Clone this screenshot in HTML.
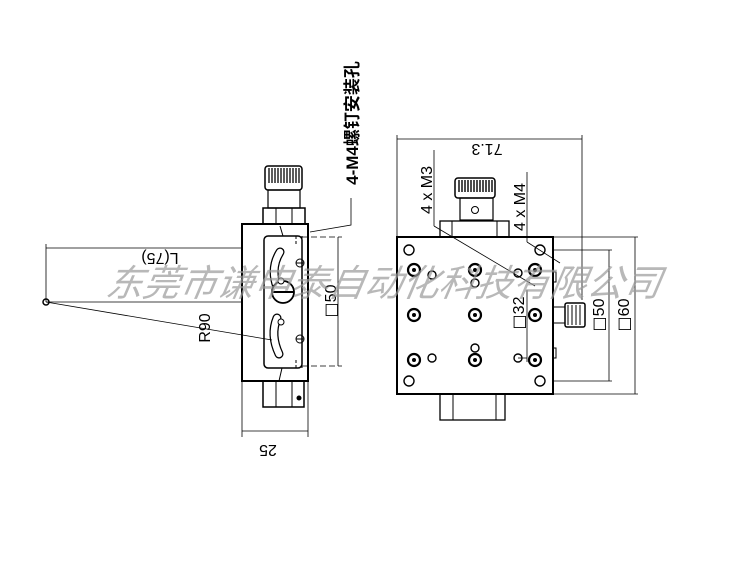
<!DOCTYPE html>
<html><head><meta charset="utf-8"><style>
html,body{margin:0;padding:0;background:#fff;}
svg{display:block;}
text{font-family:"Liberation Sans","Noto Sans CJK SC",sans-serif;}
.sq{font-family:"DejaVu Sans",sans-serif;}
</style></head><body>
<svg width="750" height="564" viewBox="0 0 750 564" xmlns="http://www.w3.org/2000/svg">
<g fill="none" stroke="#000">
<!-- LEFT VIEW -->
<rect x="242" y="224" width="66" height="157" stroke-width="2"/>
<rect x="263" y="208" width="42" height="16" stroke-width="1.5"/>
<line x1="276" y1="208" x2="276" y2="224"/><line x1="292" y1="208" x2="292" y2="224"/>
<rect x="268" y="190" width="32" height="18" stroke-width="1.2"/>
<rect x="265" y="166" width="37" height="24" rx="3" stroke-width="1.5"/>
<g stroke-width="1.3">
<line x1="269" y1="168" x2="269" y2="183"/><line x1="272" y1="168" x2="272" y2="183"/><line x1="275" y1="168" x2="275" y2="183"/><line x1="278" y1="168" x2="278" y2="183"/><line x1="281" y1="168" x2="281" y2="183"/><line x1="284" y1="168" x2="284" y2="183"/><line x1="287" y1="168" x2="287" y2="183"/><line x1="290" y1="168" x2="290" y2="183"/><line x1="293" y1="168" x2="293" y2="183"/><line x1="296" y1="168" x2="296" y2="183"/><line x1="299" y1="168" x2="299" y2="183"/>
</g>
<rect x="263" y="381" width="41" height="26" stroke-width="1.5"/>
<line x1="276" y1="381" x2="276" y2="407"/><line x1="292" y1="381" x2="292" y2="407"/>
<circle cx="299" cy="398" r="2" fill="#000"/>
<rect x="264" y="236" width="38" height="132" rx="4" stroke-width="1.5"/>
<path d="M280 252 Q270 268 277 287" stroke-width="9" stroke-linecap="round"/>
<path d="M280 252 Q270 268 277 287" stroke-width="6.5" stroke="#fff" stroke-linecap="round"/>
<path d="M277 318 Q270 335 279 354" stroke-width="9" stroke-linecap="round"/>
<path d="M277 318 Q270 335 279 354" stroke-width="6.5" stroke="#fff" stroke-linecap="round"/>
<circle cx="283" cy="292" r="11" stroke-width="1.8" fill="#fff"/>
<line x1="272" y1="292" x2="294" y2="292" stroke-width="2"/>
<circle cx="281" cy="281" r="3" fill="#fff"/><circle cx="281" cy="322" r="3" fill="#fff"/>
<circle cx="300" cy="263" r="4"/><line x1="296" y1="263" x2="304" y2="263"/>
<circle cx="300" cy="339" r="4"/><line x1="296" y1="339" x2="304" y2="339"/>
<line x1="280" y1="226" x2="283" y2="236"/><line x1="282" y1="368" x2="279" y2="381"/>
<path d="M296 236 v10 M302 236 v10 M296 360 v10 M302 360 v10" stroke-dasharray="3,2"/>
<!-- 50 dim -->
<line x1="302" y1="237" x2="342" y2="237" stroke-dasharray="6,3" stroke-width="0.8"/>
<line x1="302" y1="366" x2="342" y2="366" stroke-dasharray="6,3" stroke-width="0.8"/>
<line x1="338" y1="237" x2="338" y2="366" stroke-width="0.8"/>
<!-- 25 dim -->
<line x1="242" y1="381" x2="242" y2="437" stroke-width="0.8"/><line x1="308" y1="381" x2="308" y2="437" stroke-width="0.8"/>
<line x1="242" y1="431" x2="308" y2="431" stroke-width="0.8"/>
<!-- L75 -->
<line x1="46" y1="248" x2="242" y2="248" stroke-width="0.8"/>
<line x1="46" y1="244" x2="46" y2="302" stroke-width="0.8"/>
<line x1="46" y1="302" x2="242" y2="302" stroke-width="0.8"/>
<line x1="46" y1="302" x2="272" y2="340" stroke-width="0.8"/>
<circle cx="46" cy="302" r="3" stroke-width="1.5"/>
<!-- callout -->
<polyline points="351,198 351,225 310,232" stroke-width="0.8"/>
<!-- RIGHT VIEW -->
<rect x="397" y="237" width="156" height="157" stroke-width="2"/>
<rect x="440" y="394" width="65" height="26" stroke-width="1.3"/>
<line x1="453" y1="394" x2="453" y2="420"/><line x1="496" y1="394" x2="496" y2="420"/>
<rect x="440" y="221" width="69" height="16" stroke-width="1.3"/>
<line x1="452" y1="221" x2="452" y2="237"/><line x1="497" y1="221" x2="497" y2="237"/>
<rect x="460" y="198" width="33" height="22" stroke-width="1.2"/>
<circle cx="475" cy="210" r="3.5"/>
<rect x="455" y="178" width="40" height="20" rx="3" stroke-width="1.5"/>
<g stroke-width="1.4">
<line x1="459" y1="180" x2="459" y2="192"/><line x1="462" y1="180" x2="462" y2="192"/><line x1="465" y1="180" x2="465" y2="192"/><line x1="468" y1="180" x2="468" y2="192"/><line x1="471" y1="180" x2="471" y2="192"/><line x1="474" y1="180" x2="474" y2="192"/><line x1="477" y1="180" x2="477" y2="192"/><line x1="480" y1="180" x2="480" y2="192"/><line x1="483" y1="180" x2="483" y2="192"/><line x1="486" y1="180" x2="486" y2="192"/><line x1="489" y1="180" x2="489" y2="192"/><line x1="492" y1="180" x2="492" y2="192"/>
</g>
<!-- side knob -->
<rect x="553" y="307" width="12" height="16" stroke-width="1"/>
<rect x="565" y="303" width="20" height="24" rx="2" stroke-width="1.5"/>
<line x1="568" y1="305" x2="568" y2="325"/><line x1="572" y1="305" x2="572" y2="325"/><line x1="576" y1="305" x2="576" y2="325"/><line x1="580" y1="305" x2="580" y2="325"/>
<path d="M553 272 h3 v10 h-3 M553 348 h3 v10 h-3"/>
<!-- holes -->
<g stroke-width="1.4">
<circle cx="409" cy="250" r="5"/><circle cx="540" cy="250" r="5"/><circle cx="409" cy="381" r="5"/><circle cx="540" cy="381" r="5"/>
<circle cx="432" cy="275" r="4"/><circle cx="475" cy="283" r="4"/><circle cx="475" cy="348" r="4"/><circle cx="432" cy="358" r="4"/><circle cx="518" cy="358" r="4"/><circle cx="518" cy="273" r="4"/>
</g>
<g stroke-width="2.2">
<circle cx="414" cy="270" r="6"/><circle cx="475" cy="270" r="6"/><circle cx="535" cy="270" r="6"/>
<circle cx="414" cy="315" r="6"/><circle cx="475" cy="315" r="6"/><circle cx="535" cy="315" r="6"/>
<circle cx="414" cy="360" r="6"/><circle cx="475" cy="360" r="6"/><circle cx="535" cy="360" r="6"/>
</g>
<g fill="#000" stroke="none">
<circle cx="414" cy="270" r="2"/><circle cx="475" cy="270" r="2"/><circle cx="535" cy="270" r="2"/>
<circle cx="414" cy="315" r="2"/><circle cx="475" cy="315" r="2"/><circle cx="535" cy="315" r="2"/>
<circle cx="414" cy="360" r="2"/><circle cx="475" cy="360" r="2"/><circle cx="535" cy="360" r="2"/>
</g>
<!-- dims right -->
<g stroke-width="0.8">
<line x1="397" y1="139" x2="582" y2="139"/>
<line x1="397" y1="135" x2="397" y2="237"/>
<line x1="582" y1="135" x2="582" y2="300"/>
<line x1="434" y1="150" x2="434" y2="226"/>
<line x1="434" y1="226" x2="535" y2="286"/>
<line x1="527" y1="172" x2="527" y2="242"/>
<line x1="527" y1="242" x2="560" y2="263"/>
<line x1="527" y1="290" x2="527" y2="362"/><line x1="518" y1="358" x2="527" y2="358"/>
<line x1="553" y1="250" x2="612" y2="250"/><line x1="553" y1="381" x2="612" y2="381"/>
<line x1="609" y1="250" x2="609" y2="381"/>
<line x1="553" y1="237" x2="638" y2="237"/><line x1="553" y1="394" x2="638" y2="394"/>
<line x1="635" y1="237" x2="635" y2="394"/>
</g>
</g>
<!-- text -->
<g font-size="16" fill="#000">
<text transform="translate(268,445) rotate(180)" text-anchor="middle">25</text>
<text transform="translate(160,253) rotate(180)" text-anchor="middle">L(75)</text>
<text transform="translate(210,328) rotate(-90)" text-anchor="middle">R90</text>
<text transform="translate(336,301) rotate(-90)" text-anchor="middle"><tspan class="sq">□</tspan>50</text>
<text transform="translate(358,123) rotate(-90)" text-anchor="middle" font-weight="bold" font-size="17">4-M4螺钉安装孔</text>
<text transform="translate(487,144) rotate(180)" text-anchor="middle">71.3</text>
<text transform="translate(432,190) rotate(-90)" text-anchor="middle">4 x M3</text>
<text transform="translate(525,207) rotate(-90)" text-anchor="middle">4 x M4</text>
<text transform="translate(524,313) rotate(-90)" text-anchor="middle"><tspan class="sq">□</tspan>32</text>
<text transform="translate(604,315) rotate(-90)" text-anchor="middle"><tspan class="sq">□</tspan>50</text>
<text transform="translate(629,315) rotate(-90)" text-anchor="middle"><tspan class="sq">□</tspan>60</text>
</g>
<text x="382" y="296" text-anchor="middle" font-size="37" fill="#9a9a9a" fill-opacity="0.7" font-style="italic" font-family="'Liberation Serif','Noto Serif CJK SC',serif" transform="skewX(-10) translate(52,0)">东莞市谦申泰自动化科技有限公司</text>
</svg>
</body></html>
